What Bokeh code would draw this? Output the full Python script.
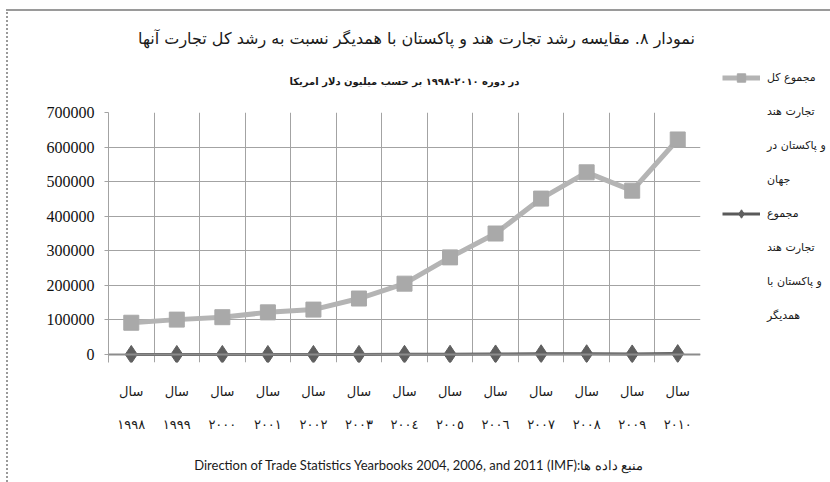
from bokeh.plotting import figure
from bokeh.layouts import row
from bokeh.models import (Range1d, FixedTicker, Legend, LegendItem, Title,
                          BasicTickFormatter, Span, InlineStyleSheet)
from bokeh.embed import file_html
from bokeh.resources import INLINE

# ---- data ----
years_fa = ["۱۹۹۸", "۱۹۹۹", "۲۰۰۰", "۲۰۰۱", "۲۰۰۲", "۲۰۰۳", "۲۰۰٤",
            "۲۰۰٥", "۲۰۰٦", "۲۰۰۷", "۲۰۰۸", "۲۰۰۹", "۲۰۱۰"]
year_word = "سال"
world_trade = [92000, 101000, 108000, 122000, 130000, 162000, 205000,
               281000, 350000, 451000, 527000, 474000, 622000]
bilateral_trade = [300, 250, 300, 250, 250, 400, 600, 900, 1700, 2300, 2300, 1800, 2700]
y_ticks = [0, 100000, 200000, 300000, 400000, 500000, 600000, 700000]

title_text = "نمودار ۸. مقایسه رشد تجارت هند و پاکستان با همدیگر نسبت به رشد کل تجارت آنها"
subtitle_text = "در دوره ۲۰۱۰-۱۹۹۸ بر حسب میلیون دلار امریکا"
source_text = "Direction of Trade Statistics Yearbooks 2004, 2006, and 2011 (IMF):منبع داده ها"
legend1_lines = ["مجموع کل", "تجارت هند", "و پاکستان در", "جهان"]
legend2_lines = ["مجموع", "تجارت هند", "و پاکستان با", "همدیگر"]

n = len(years_fa)
xs = [i + 0.5 for i in range(n)]
bounds = list(range(n + 1))

AR_FONT = "DejaVu Sans"
WORLD_LINE = dict(line_color="#b4b4b4", line_width=5)
WORLD_MARK = dict(marker="square", size=15, fill_color="#a9a9a9", line_color="#a9a9a9")
BILAT_LINE = dict(line_color="#5a5a5a", line_width=3)
BILAT_MARK = dict(marker="diamond", size=18, fill_color="#5f5f5f", line_color="#5f5f5f")

# ---------------- main chart ----------------
p = figure(width=720, height=482, output_backend="svg", toolbar_location=None,
           x_range=Range1d(0, n), y_range=Range1d(-23000, 700000),
           min_border_left=108, min_border_right=20, min_border_top=112,
           min_border_bottom=120, frame_align=False)
p.outline_line_color = None
p.background_fill_color = "white"
p.border_fill_color = "white"

p.xgrid.ticker = FixedTicker(ticks=bounds)
p.ygrid.ticker = FixedTicker(ticks=y_ticks)
for g in (p.xgrid, p.ygrid):
    g.grid_line_color = "#a3a3a3"
    g.grid_line_width = 1

p.add_layout(Span(location=0, dimension="width", line_color="#8c8c8c", line_width=2))

ya = p.yaxis[0]
ya.ticker = FixedTicker(ticks=y_ticks)
ya.formatter = BasicTickFormatter(use_scientific=False)
ya.axis_line_color = "#a3a3a3"
ya.major_tick_line_color = "#a3a3a3"
ya.major_tick_out = 4
ya.major_tick_in = 0
ya.minor_tick_line_color = None
ya.major_label_standoff = 10
ya.major_label_text_font = "Liberation Sans Narrow"
ya.major_label_text_font_size = "16px"
ya.major_label_text_color = "#111111"

xa = p.xaxis[0]
xa.ticker = FixedTicker(ticks=xs)
xa.major_label_overrides = {x: year_word + "\n" + y for x, y in zip(xs, years_fa)}
xa.axis_line_color = None
xa.major_tick_line_color = None
xa.minor_tick_line_color = None
xa.major_label_standoff = 15
xa.major_label_text_font = AR_FONT
xa.major_label_text_font_size = "13px"
xa.major_label_text_color = "#1a1a1a"
xa.major_label_text_line_height = 2.25
# source line, drawn as the x axis' label (leading em spaces nudge it right)
xa.axis_label = "\u2003\u2003\u2003" + source_text
xa.axis_label_standoff = 22
xa.axis_label_text_font = "Lato"
xa.axis_label_text_font_size = "13px"
xa.axis_label_text_font_style = "normal"
xa.axis_label_text_color = "#1a1a1a"

p.line(xs, world_trade, **WORLD_LINE)
p.scatter(xs, world_trade, **WORLD_MARK)
p.line(xs, bilateral_trade, **BILAT_LINE)
p.scatter(xs, bilateral_trade, **BILAT_MARK)

# titles: the figure's own title is the farthest from the frame
p.title.text = "\u2003\u2002" + title_text
p.title.align = "center"
p.title.text_font = AR_FONT
p.title.text_font_size = "16px"
p.title.text_font_style = "normal"
p.title.text_color = "#1a1a1a"
p.title.standoff = 0

sub_title = Title(text=subtitle_text, align="center", text_font=AR_FONT,
                  text_font_size="10px", text_font_style="bold",
                  text_color="#1a1a1a", standoff=52)
p.add_layout(sub_title, "above")

# ---------------- legend panel ----------------
# the series are drawn again here only so the legend can sample their styles;
# their values lie far outside this panel's 0..1 ranges, so no mark shows
pl = figure(width=110, height=482, output_backend="svg", toolbar_location=None,
            x_range=Range1d(0, 1), y_range=Range1d(0, 1),
            x_axis_location=None, y_axis_location=None, min_border=0,
            frame_align=False)
pl.grid.visible = False
pl.outline_line_color = None
pl.background_fill_color = "white"
pl.border_fill_color = "white"

k1 = pl.line(xs, world_trade, **WORLD_LINE)
m1 = pl.scatter(xs, world_trade, **WORLD_MARK)
k2 = pl.line(xs, bilateral_trade, **BILAT_LINE)
m2 = pl.scatter(xs, bilateral_trade, **BILAT_MARK)
blank = pl.line(x=[], y=[], line_alpha=0)

items = [LegendItem(label=legend1_lines[0], renderers=[k1, m1])]
items += [LegendItem(label=t, renderers=[blank]) for t in legend1_lines[1:]]
items += [LegendItem(label=legend2_lines[0], renderers=[k2, m2])]
items += [LegendItem(label=t, renderers=[blank]) for t in legend2_lines[1:]]
legend = Legend(items=items, location=(2, 156), orientation="vertical",
                glyph_width=38, glyph_height=21, label_height=21, spacing=13,
                padding=0, margin=0, label_standoff=7,
                border_line_color=None, background_fill_alpha=0,
                label_text_font=AR_FONT, label_text_font_size="11px",
                label_text_color="#1a1a1a")
pl.add_layout(legend, "center")

# thin grey page frame (left and top edges), as in the source image
frame_css = InlineStyleSheet(css="""
:host { position: relative; }
:host::after {
  content: ""; position: absolute; left: 6px; top: 9px; right: 0; bottom: 0;
  border-left: 2px dotted #9a9a9a; border-top: 2px solid #9a9a9a;
  pointer-events: none; z-index: 5; box-sizing: border-box;
}
""")
layout = row(p, pl, stylesheets=[frame_css])
open("out.html", "w").write(file_html(layout, INLINE))
